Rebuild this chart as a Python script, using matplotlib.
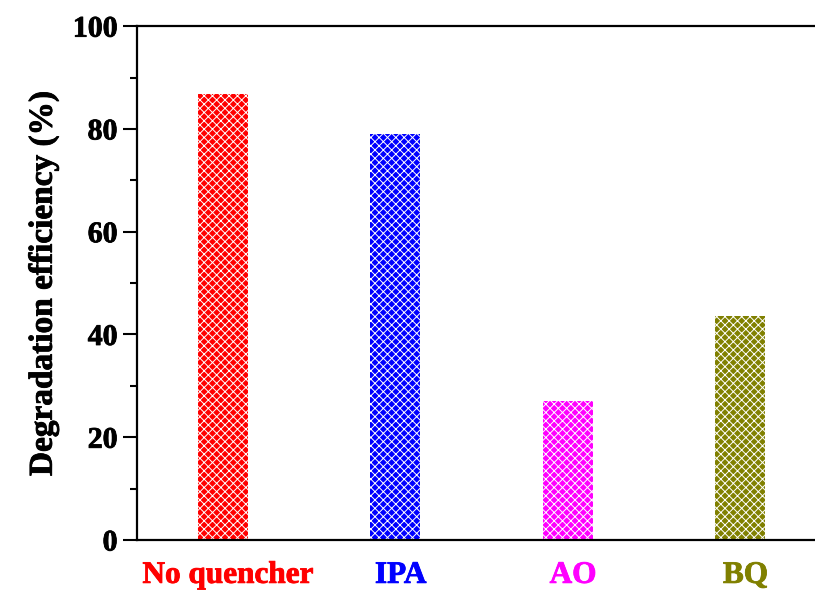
import matplotlib
matplotlib.use("Agg")
import matplotlib.pyplot as plt
import matplotlib.patheffects as pe
from matplotlib.ticker import MultipleLocator

categories = ["No quencher", "IPA", "AO", "BQ"]
values = [86.8, 79.0, 27.0, 43.5]
colors = ["#FF0000", "#0000FF", "#FF00FF", "#808000"]
yticks = [0, 20, 40, 60, 80, 100]

plt.rcParams['font.family'] = ['Liberation Serif', 'DejaVu Serif']
plt.rcParams['hatch.linewidth'] = 0.7

fig = plt.figure(figsize=(8.15, 5.92), dpi=100)
ax = fig.add_axes([0.168, 0.0878, 0.9, 0.868])

x = list(range(len(categories)))
ax.bar(x, values, width=0.29, color=colors, edgecolor='#FFFFFF', linewidth=0, hatch='xxxx')

ax.set_xlim(-0.499, 3.755)
ax.set_ylim(0, 100)
ax.set_yticks(yticks)
ax.yaxis.set_minor_locator(MultipleLocator(10))
# labels sit slightly right of bar centres in the reference
ax.set_xticks([i + 0.03 for i in x])
ax.set_xticklabels(categories)
for lbl, c in zip(ax.get_xticklabels(), colors):
    lbl.set_color(c)
    lbl.set_fontweight('bold')
    lbl.set_fontsize(22.5)
    lbl.set_path_effects([pe.withStroke(linewidth=0.6, foreground=c)])
for lbl in ax.get_yticklabels():
    lbl.set_fontweight('bold')
    lbl.set_fontsize(21.5)
    lbl.set_path_effects([pe.withStroke(linewidth=0.6, foreground='black')])

ax.tick_params(axis='x', length=0, pad=15)
ax.tick_params(axis='y', which='major', length=10, width=1.5, direction='out', pad=4)
ax.tick_params(axis='y', which='minor', length=5, width=1.5, direction='out')
for s in ax.spines.values():
    s.set_linewidth(1.6)

yl = ax.set_ylabel("Degradation efficiency (%)", fontsize=24, fontweight='bold', labelpad=10)
yl.set_path_effects([pe.withStroke(linewidth=0.6, foreground='black')])

fig.savefig("out.png", dpi=100)
